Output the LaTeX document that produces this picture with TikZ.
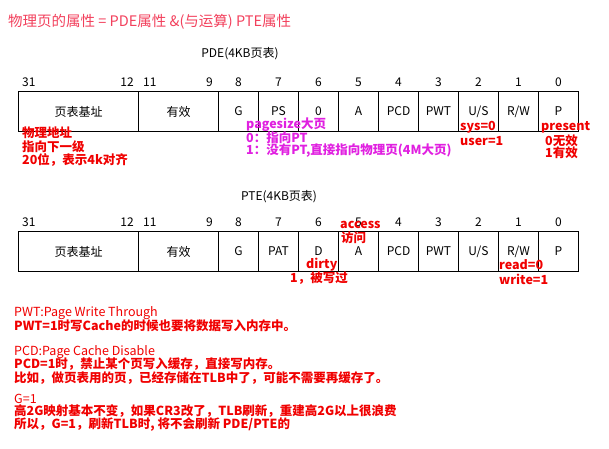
\documentclass[tikz,border=0pt]{standalone}
\usepackage{fontspec}
\setmainfont{Noto Sans CJK SC}
\usepackage{tikz}
\usetikzlibrary{positioning}
\definecolor{titlered}{HTML}{F2405C}
\definecolor{notered}{HTML}{F00000}
\definecolor{notemag}{HTML}{E020E0}

\begin{document}
\begin{tikzpicture}[x=1pt,y=-1pt,
  bitcell/.style={draw,line width=1pt,minimum width=40pt,minimum height=40pt,
                  inner sep=0pt,anchor=north west,font=\fontsize{12}{14}\selectfont},
  bitnum/.style={inner sep=0pt,font=\fontsize{12}{14}\selectfont},
  rednote/.style={inner sep=0pt,anchor=west,text=notered,
                  font=\bfseries\fontsize{12.5}{14}\selectfont},
  redlight/.style={rednote,font=\fontsize{12.5}{14}\selectfont},
  magnote/.style={rednote,text=notemag}
]
\useasboundingbox (0,0) rectangle (609,448);

\node[anchor=west,inner sep=0pt,text=titlered,font=\fontsize{14.5}{18}\selectfont] (title) at (8,22)
  {物理页的属性 = PDE属性 \&(与运算) PTE属性};

% PDE
\node[bitnum] (pdehead) at (240,54) {PDE(4KB页表)};
\node[bitcell,minimum width=120pt] (pde31) at (18,91) {页表基址};
\node[bitcell,minimum width=80pt] (pde11) at (138,91) {有效};
\foreach \lbl/\b [count=\i] in {G/8,PS/7,0/6,A/5,PCD/4,PWT/3,{U/S}/2,{R/W}/1,P/0}
  \node[bitcell] (pde\b) at (178+40*\i,91) {\lbl};
\node[bitnum,anchor=south west] (pdenum31) at ([xshift=4pt,yshift=4pt]pde31.north west) {31};
\node[bitnum,anchor=south east] (pdenum12) at ([xshift=-5pt,yshift=4pt]pde31.north east) {12};
\node[bitnum,anchor=south west] (pdenum11) at ([xshift=5pt,yshift=4pt]pde11.north west) {11};
\node[bitnum,anchor=south east] (pdenum9) at ([xshift=-6pt,yshift=4pt]pde11.north east) {9};
\foreach \b in {8,...,0}
  \node[bitnum,above=4pt of pde\b] (pdenum\b) {\b};

\node[rednote] (addrnote1) at (22,133) {物理地址};
\node[rednote] (addrnote2) at (22,146.5) {指向下一级};
\node[rednote] (addrnote3) at (22,160) {20位，表示4k对齐};
\node[magnote] (psnote1) at (246,125) {pagesize大页};
\node[magnote] (psnote2) at (246,138) {0：指向PT};
\node[magnote] (psnote3) at (246,151) {1：没有PT,直接指向物理页(4M大页)};
\node[rednote] (usnote1) at (460,127) {sys=0};
\node[rednote] (usnote2) at (460,141) {user=1};
\node[rednote] (pnote1) at (541,127) {present};
\node[rednote] (pnote2) at (545,141) {0无效};
\node[rednote] (pnote3) at (545,153) {1有效};

% PTE
\node[bitnum] (ptehead) at (279,197) {PTE(4KB页表)};
\node[bitcell,minimum width=120pt] (pte31) at (18,231) {页表基址};
\node[bitcell,minimum width=80pt] (pte11) at (138,231) {有效};
\foreach \lbl/\b [count=\i] in {G/8,PAT/7,D/6,A/5,PCD/4,PWT/3,{U/S}/2,{R/W}/1,P/0}
  \node[bitcell] (pte\b) at (178+40*\i,231) {\lbl};
\node[bitnum,anchor=south west] (ptenum31) at ([xshift=4pt,yshift=4pt]pte31.north west) {31};
\node[bitnum,anchor=south east] (ptenum12) at ([xshift=-5pt,yshift=4pt]pte31.north east) {12};
\node[bitnum,anchor=south west] (ptenum11) at ([xshift=5pt,yshift=4pt]pte11.north west) {11};
\node[bitnum,anchor=south east] (ptenum9) at ([xshift=-6pt,yshift=4pt]pte11.north east) {9};
\foreach \b in {8,...,0}
  \node[bitnum,above=4pt of pte\b] (ptenum\b) {\b};

\node[rednote] (anote1) at (340,225) {access};
\node[rednote] (anote2) at (341,238) {访问};
\node[rednote] (dnote1) at (306,265) {dirty};
\node[rednote] (dnote2) at (290,278) {1，被写过};
\node[rednote] (rwnote1) at (499,265) {read=0};
\node[rednote] (rwnote2) at (499,279) {write=1};

% notes below
\node[redlight] (pwthead) at (14,313) {PWT:Page Write Through};
\node[rednote] (pwtline) at (14,325.5) {PWT=1时写Cache的时候也要将数据写入内存中。};
\node[redlight] (pcdhead) at (14,352) {PCD:Page Cache Disable};
\node[rednote] (pcdline1) at (14,364) {PCD=1时，禁止某个页写入缓存，直接写内存。};
\node[rednote] (pcdline2) at (14,378.5) {比如，做页表用的页，已经存储在TLB中了，可能不需要再缓存了。};
\node[redlight] (ghead) at (14,399) {G=1};
\node[rednote] (gline1) at (14,411.5) {高2G映射基本不变，如果CR3改了，TLB刷新，重建高2G以上很浪费};
\node[rednote] (gline2) at (14,425) {所以，G=1，刷新TLB时, 将不会刷新 PDE/PTE的};
\end{tikzpicture}
\end{document}
